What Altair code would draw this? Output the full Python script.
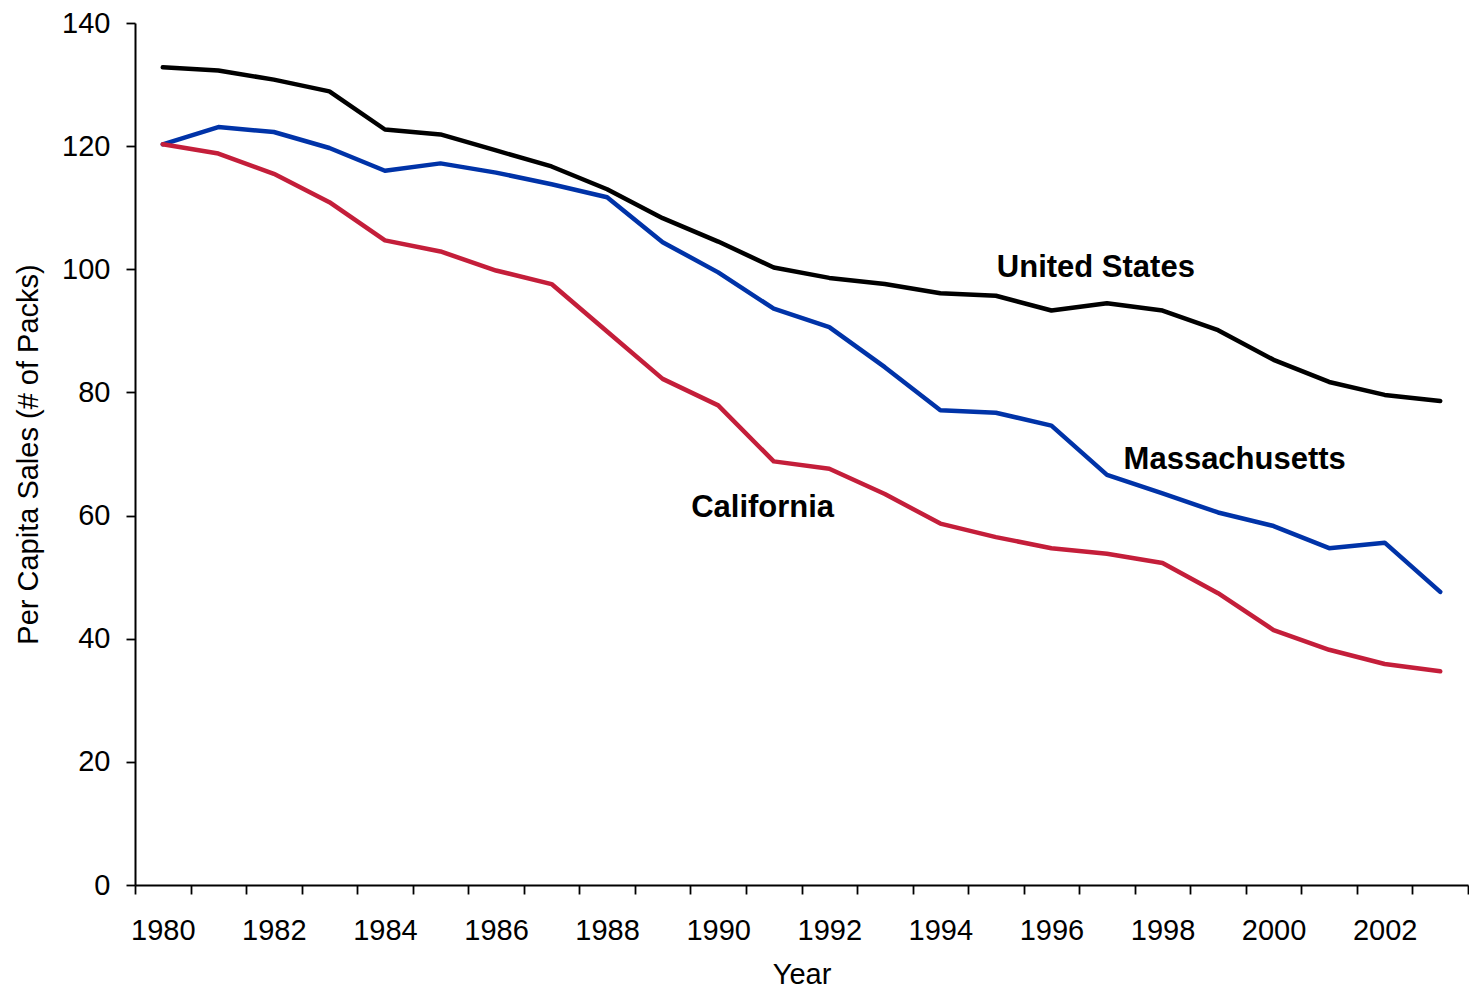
import altair as alt
import pandas as pd

# ---- data ----
years = list(range(1980, 2004))
us = [132.8, 132.3, 130.8, 128.9, 122.7, 121.9, 119.3, 116.7, 113.0, 108.3,
      104.5, 100.3, 98.6, 97.6, 96.1, 95.7, 93.3, 94.5, 93.3, 90.1,
      85.3, 81.7, 79.6, 78.6]
ma = [120.3, 123.1, 122.3, 119.7, 116.0, 117.2, 115.7, 113.8, 111.7, 104.4,
      99.5, 93.6, 90.6, 84.1, 77.1, 76.7, 74.6, 66.6, 63.6, 60.5,
      58.3, 54.7, 55.6, 47.6]
ca = [120.3, 118.8, 115.5, 110.9, 104.7, 102.9, 99.8, 97.6, 89.9, 82.2,
      77.9, 68.8, 67.6, 63.5, 58.7, 56.5, 54.7, 53.8, 52.3, 47.4,
      41.4, 38.2, 35.9, 34.7]
series = ["United States", "Massachusetts", "California"]
colors = ["#000000", "#0033A8", "#C41E3A"]

label_text = ["United States", "Massachusetts", "California"]
label_year = [1996.8, 1999.3, 1990.8]
label_value = [100.2, 69.0, 61.2]

# ---- tables ----
rows = []
for name, vals in zip(series, [us, ma, ca]):
    for yr, v in zip(years, vals):
        rows.append({"Year": yr, "Sales": v, "Series": name})
df = pd.DataFrame(rows)
labels = pd.DataFrame({"text": label_text, "Year": label_year, "Sales": label_value})

FONT = "Liberation Sans"
PLOT_W = 1333
HALF_YEAR_PX = PLOT_W / 24 / 2

x_scale = alt.Scale(domain=[1979.5, 2003.5], nice=False, zero=False)
y_scale = alt.Scale(domain=[0, 140], nice=False, zero=True)

tick_vals = [yr - 0.5 for yr in years] + [years[-1] + 0.5]

x_axis = alt.Axis(
    values=tick_vals,
    labelExpr="((datum.value + 0.5) % 2 == 0 && datum.value < 2003) ? format(datum.value + 0.5, 'd') : ''",
    labelOffset=HALF_YEAR_PX,
    labelOverlap=False,
    labelFlush=False,
    labelBound=False,
    labelPadding=22,
    labelBaseline="top",
    labelFontSize=29,
    labelFont=FONT,
    labelColor="black",
    tickSize=9,
    tickWidth=1.8,
    tickColor="black",
    domainColor="black",
    domainWidth=2,
    grid=False,
    title="Year",
    titleFont=FONT,
    titleFontSize=29,
    titleFontWeight="normal",
    titleColor="black",
    titleBaseline="alphabetic",
    titleY=98,
)

y_axis = alt.Axis(
    values=[0, 20, 40, 60, 80, 100, 120, 140],
    format="d",
    labelFontSize=29,
    labelFont=FONT,
    labelColor="black",
    labelPadding=16,
    labelBaseline="middle",
    tickSize=9,
    tickWidth=1.8,
    tickColor="black",
    domainColor="black",
    domainWidth=2,
    grid=False,
    title="Per Capita Sales (# of Packs)",
    titleFont=FONT,
    titleFontSize=29,
    titleFontWeight="normal",
    titleColor="black",
    titleAngle=270,
    titleAlign="center",
    titleBaseline="alphabetic",
    titleX=-98,
    titleY=431,
)

lines = alt.Chart(df).mark_line(strokeWidth=4.5, strokeCap="round", strokeJoin="round").encode(
    x=alt.X("Year:Q", scale=x_scale, axis=x_axis),
    y=alt.Y("Sales:Q", scale=y_scale, axis=y_axis),
    color=alt.Color("Series:N", scale=alt.Scale(domain=series, range=colors), legend=None),
)

texts = alt.Chart(labels).mark_text(
    font=FONT, fontSize=31, fontWeight="bold", align="center", baseline="middle", color="black"
).encode(
    x=alt.X("Year:Q", scale=x_scale),
    y=alt.Y("Sales:Q", scale=y_scale),
    text="text:N",
)

chart = alt.layer(lines, texts).properties(
    width=PLOT_W,
    height=862,
    autosize=alt.AutoSizeParams(type="none"),
    padding={"left": 127, "top": 15, "right": 1, "bottom": 104},
    background="white",
).configure_view(stroke=None)

chart.save("out.html", embed_options={"renderer": "svg", "actions": False})
